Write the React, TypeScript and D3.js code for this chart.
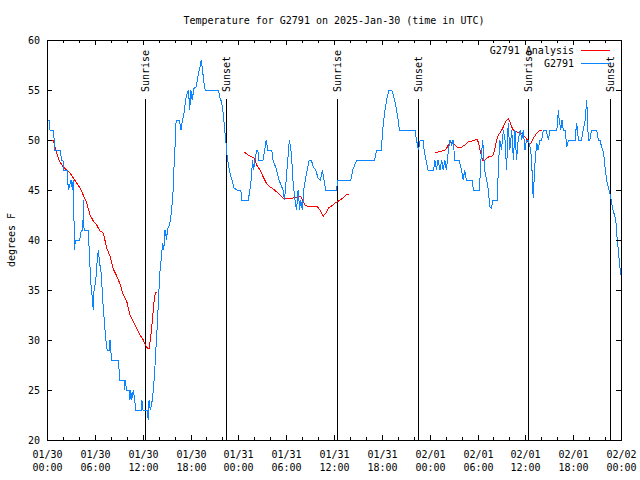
import React from 'react';
import * as d3 from 'd3';

// hours counted from 2025-01-30 00:00 UTC
const chartTitle = 'Temperature for G2791 on 2025-Jan-30 (time in UTC)';
const yAxisLabel = 'degrees F';
const xTickDates = ['01/30', '01/30', '01/30', '01/30', '01/31', '01/31', '01/31', '01/31', '02/01', '02/01', '02/01', '02/01', '02/02'];
const xTickTimes = ['00:00', '06:00', '12:00', '18:00', '00:00', '06:00', '12:00', '18:00', '00:00', '06:00', '12:00', '18:00', '00:00'];
const yTickValues = [20, 25, 30, 35, 40, 45, 50, 55, 60];

const sunLabels = ['Sunrise', 'Sunset', 'Sunrise', 'Sunset', 'Sunrise', 'Sunset'];
const sunHours = [12.33, 22.49, 36.42, 46.58, 60.38, 70.66];

const legendNames = ['G2791 Analysis', 'G2791'];

// station observations [hour, degF]
const observed: [number, number][] = [
  [0.05, 52], [0.3, 52], [0.38, 51], [0.8, 51], [0.9, 50], [1.0, 49], [1.7, 49], [1.8, 48], [2.0, 48], [2.1, 47],
  [2.6, 47], [2.65, 45], [2.85, 45.3], [2.95, 46], [3.1, 46], [3.15, 45], [3.3, 46], [3.45, 39], [3.55, 40], [4.1, 40],
  [4.3, 41], [4.5, 41], [4.55, 44], [4.65, 41], [5.2, 41], [5.3, 38.7], [5.5, 35.7], [5.7, 34], [5.8, 33], [5.9, 35],
  [6.1, 35.8], [6.3, 38], [6.45, 39], [6.6, 37.7], [6.8, 36.7], [7.05, 33.3], [7.25, 31.3], [7.45, 29.4], [7.55, 29], [7.8, 29],
  [7.9, 30], [8.0, 29], [8.1, 28], [8.9, 28], [9.05, 27], [9.15, 26], [9.7, 26], [9.75, 25], [9.8, 26], [10.0, 25],
  [10.3, 25], [10.4, 24], [10.5, 25], [10.62, 24], [10.83, 25], [11.0, 24], [11.15, 23], [11.85, 23], [11.9, 24], [12.05, 23],
  [12.55, 23], [12.7, 22], [12.8, 24], [12.95, 23], [13.15, 23.7], [13.3, 24.7], [13.5, 26.7], [13.65, 29], [13.85, 31.7], [14.0, 34.3],
  [14.15, 36.7], [14.35, 38.3], [14.5, 39.7], [14.65, 39], [14.8, 41], [15.0, 40], [15.1, 41], [15.35, 41.5], [15.5, 42], [15.7, 43.7],
  [15.85, 45.3], [15.95, 47.7], [16.1, 50], [16.2, 52], [16.6, 52], [16.8, 51], [17.0, 52], [17.2, 52.8], [17.35, 53.7], [17.5, 54.5],
  [17.75, 55], [17.9, 53], [18.05, 55], [18.2, 54], [18.45, 55.2], [18.7, 55.3], [18.85, 56], [19.0, 56.7], [19.2, 57.3], [19.35, 58],
  [19.5, 57], [19.7, 55.7], [19.85, 55], [21.5, 55], [21.7, 54.2], [21.9, 53.8], [22.1, 52.7], [22.3, 51], [22.45, 49.7], [22.6, 48.3],
  [22.8, 47.3], [22.95, 46.7], [23.2, 46], [23.45, 45.2], [23.8, 45], [24.3, 45], [24.45, 44], [25.25, 44], [25.45, 45], [25.6, 46],
  [25.8, 48], [25.9, 47], [26.1, 48], [26.3, 49], [26.45, 49], [26.55, 48], [27.1, 48], [27.3, 49], [27.5, 50], [27.7, 49],
  [28.2, 49], [28.35, 48], [28.8, 47], [29.1, 46], [29.6, 45], [29.8, 44], [30.0, 46], [30.2, 48], [30.4, 50], [30.65, 48.7],
  [30.85, 46], [31.1, 44], [31.3, 43], [31.5, 45], [31.7, 43], [31.8, 44], [32.05, 43], [32.2, 45], [32.4, 46], [32.65, 47],
  [32.9, 48], [33.15, 48], [33.4, 47.3], [33.7, 47], [34.0, 46.2], [34.3, 46], [34.55, 47], [34.75, 46], [34.95, 45], [36.3, 45],
  [36.5, 46], [38.1, 46], [38.35, 47], [38.85, 48], [41.1, 48], [41.35, 49], [41.95, 49], [42.1, 51], [42.4, 53], [42.6, 54],
  [42.9, 55], [43.25, 55], [43.6, 54], [43.85, 53], [44.05, 52], [44.2, 51], [46.15, 51], [46.35, 50], [46.6, 49], [46.8, 50],
  [47.2, 50], [47.3, 49], [47.55, 48], [47.8, 47], [48.1, 47], [48.5, 47], [48.65, 48], [48.85, 47], [49.05, 48], [49.3, 47],
  [49.5, 48], [49.7, 47], [49.9, 48], [50.1, 47], [50.35, 49], [50.55, 50], [50.75, 49.5], [50.95, 50], [51.15, 48], [51.7, 48],
  [52.0, 47], [52.2, 46], [52.4, 47], [52.6, 46], [52.95, 46], [53.3, 46], [53.5, 45], [54.25, 45], [54.4, 47.7], [54.65, 50],
  [54.9, 47], [55.15, 46], [55.35, 45], [55.55, 43.3], [55.75, 43.2], [55.95, 44], [56.5, 44], [56.6, 47], [56.8, 50], [57.0, 49],
  [57.25, 51], [57.45, 50], [57.65, 47], [57.85, 51.7], [58.05, 49], [58.3, 51], [58.5, 48], [58.7, 51], [58.9, 48], [59.1, 50],
  [59.35, 51], [59.55, 50], [59.75, 51], [59.95, 49], [60.15, 50], [60.35, 50], [60.6, 49.3], [60.8, 48], [60.9, 45.3], [61.0, 44.2],
  [61.1, 46], [61.25, 48.3], [61.45, 49.7], [61.6, 49], [61.85, 50], [62.05, 50], [62.25, 51], [62.6, 51], [62.9, 50], [63.1, 51],
  [63.95, 51], [64.15, 53], [64.25, 52], [64.45, 51], [64.6, 52], [64.75, 51], [65.0, 51], [65.2, 49.3], [65.4, 50], [66.25, 50],
  [66.35, 51], [66.45, 51.7], [66.65, 50], [67.05, 50], [67.25, 51], [67.5, 52], [67.7, 54], [67.9, 50], [68.1, 50], [68.3, 51],
  [68.95, 51], [69.15, 50], [69.35, 50], [69.6, 49.2], [69.8, 48.8], [70.0, 47.3], [70.2, 46], [70.4, 45.3], [70.6, 44.7], [71.0, 43],
  [71.35, 42], [71.5, 40.3], [71.7, 38.7], [71.8, 37.7], [71.95, 36.7], [72.0, 36.5],
];

// model analysis, null = gap
const analysis: ([number, number] | null)[] = [
  [0.55, 50], [0.8, 50], [1.0, 49.3], [1.22, 48.7], [1.42, 48.2], [1.63, 47.8], [2.05, 47.3], [2.47, 47], [2.89, 46.7], [3.3, 46.2],
  [3.72, 45.7], [4.14, 45.2], [4.55, 44.5], [4.98, 43.7], [5.4, 42.5], [5.81, 41.9], [6.23, 41.5], [6.65, 40.9], [7.06, 40.7], [7.49, 39.2],
  [7.9, 38.4], [8.32, 37.1], [8.74, 36.4], [9.16, 35.6], [9.57, 34.5], [9.99, 33.9], [10.41, 32.5], [10.83, 31.8], [11.24, 31.2], [11.66, 30.5],
  [12.08, 30], [12.33, 29.5], [12.58, 29.2], [12.83, 29.2], [13.01, 30.3], [13.26, 32.3], [13.42, 33.8], [13.59, 34.7], [13.84, 34.8],
  null,
  [24.75, 48.8], [25.25, 48.5], [25.68, 48.3], [26.0, 48.2], [26.3, 47.5], [26.72, 47], [27.13, 46.3], [27.56, 45.6], [27.97, 45.3], [28.39, 45.1],
  [28.81, 44.8], [29.23, 44.5], [29.64, 44.2], [30.9, 44.2], [31.74, 44.4], [31.95, 44.2], [32.36, 43.5], [32.58, 43.4], [33.83, 43.4], [34.24, 43],
  [34.66, 42.4], [35.0, 42.7], [35.29, 43.2], [35.71, 43.4], [36.13, 43.7], [36.42, 43.8], [36.75, 44], [37.17, 44.2], [37.59, 44.6], [37.92, 44.6],
  null,
  [48.67, 48.8], [49.08, 48.8], [49.51, 48.9], [49.92, 49], [50.14, 49.2], [50.34, 49.5], [50.55, 49.7], [50.76, 49.8], [50.97, 49.7], [51.39, 49.3],
  [51.72, 49.2], [52.02, 49.3], [52.43, 49.5], [52.85, 49.8], [53.27, 49.9], [53.69, 50], [53.9, 50.1], [54.1, 49.8], [54.23, 49.3], [54.4, 48.7],
  [54.65, 48], [54.94, 48], [55.36, 48.3], [55.78, 48.4], [55.98, 48.5], [56.19, 49.2], [56.4, 50], [56.61, 50.5], [56.82, 50.7], [57.04, 51],
  [57.24, 51.3], [57.45, 51.7], [57.66, 52], [57.86, 52.1], [58.08, 51.8], [58.29, 51.3], [58.49, 51], [58.92, 50.8], [59.33, 50.7], [59.75, 50.5],
  [60.17, 50.1], [60.37, 49.8], [60.59, 49.6], [60.8, 49.8], [61.0, 50.2], [61.22, 50.4], [61.43, 50.7], [61.63, 50.8], [61.84, 51], [62.05, 51],
];

const W = 640;
const H = 480;
const left = 47;
const right = 621;
const top = 40;
const bottom = 440;
const font = "'DejaVu Sans Mono', 'Liberation Mono', monospace";
const RED = '#ff0000';
const BLUE = '#0a84ff';

const App: React.FC = () => {
  const x = d3.scaleLinear().domain([0, 72]).range([left, right]);
  const y = d3.scaleLinear().domain([20, 60]).range([bottom, top]);

  const obsLine = d3.line<[number, number]>()
    .x(d => x(d[0]))
    .y(d => y(d[1]));

  const anaLine = d3.line<[number, number] | null>()
    .defined(d => d !== null)
    .x(d => x((d as [number, number])[0]))
    .y(d => y((d as [number, number])[1]));

  const majorX = d3.range(0, 73, 6);
  const minorX = d3.range(0, 73, 2).filter(h => h % 6 !== 0);

  return (
    <div style={{ position: 'fixed', left: 0, top: 0 }}>
      <svg width={W} height={H} style={{ display: 'block', background: '#fff' }} fontFamily={font} fontSize={10}>
        <text x={(left + right) / 2} y={24} textAnchor="middle">{chartTitle}</text>

        {/* sunrise / sunset markers */}
        {sunHours.map((h, i) => {
          const lx = Math.round(x(h)) + 0.5;
          return (
            <g key={'sun' + i}>
              <line x1={lx} x2={lx} y1={99} y2={bottom} stroke="#000" strokeWidth={1} />
              <text transform={`translate(${lx},92) rotate(-90)`} dy="0.35em" textAnchor="start">{sunLabels[i]}</text>
            </g>
          );
        })}

        {/* data */}
        <path d={anaLine(analysis) || ''} fill="none" stroke={RED} strokeWidth={1} shapeRendering="crispEdges" />
        <path d={obsLine(observed) || ''} fill="none" stroke={BLUE} strokeWidth={1} shapeRendering="crispEdges" />

        {/* frame */}
        <rect x={left + 0.5} y={top + 0.5} width={right - left} height={bottom - top} fill="none" stroke="#000" strokeWidth={1} />

        {/* x ticks */}
        {majorX.map((h, i) => {
          const tx = Math.round(x(h)) + 0.5;
          return (
            <g key={'mx' + i}>
              <line x1={tx} x2={tx} y1={bottom} y2={bottom - 5} stroke="#000" />
              <line x1={tx} x2={tx} y1={top} y2={top + 5} stroke="#000" />
              <text x={tx} y={457.5} textAnchor="middle">{xTickDates[i]}</text>
              <text x={tx} y={471} textAnchor="middle">{xTickTimes[i]}</text>
            </g>
          );
        })}
        {minorX.map((h, i) => {
          const tx = Math.round(x(h)) + 0.5;
          return (
            <g key={'nx' + i}>
              <line x1={tx} x2={tx} y1={bottom} y2={bottom - 3} stroke="#000" />
              <line x1={tx} x2={tx} y1={top} y2={top + 3} stroke="#000" />
            </g>
          );
        })}

        {/* y ticks */}
        {yTickValues.map(v => {
          const ty = Math.round(y(v)) + 0.5;
          return (
            <g key={'y' + v}>
              <line x1={left} x2={left + 5} y1={ty} y2={ty} stroke="#000" />
              <line x1={right} x2={right - 5} y1={ty} y2={ty} stroke="#000" />
              <text x={40} y={ty} dy="0.35em" textAnchor="end">{v}</text>
            </g>
          );
        })}

        <text transform={`translate(11,${(top + bottom) / 2}) rotate(-90)`} dy="0.35em" textAnchor="middle">{yAxisLabel}</text>

        {/* legend */}
        {legendNames.map((name, i) => {
          const ly = 50 + i * 13;
          return (
            <g key={'lg' + i}>
              <text x={574} y={ly} dy="0.35em" textAnchor="end">{name}</text>
              <line x1={581} x2={610} y1={ly + 0.5} y2={ly + 0.5} stroke={i === 0 ? RED : BLUE} />
            </g>
          );
        })}
      </svg>
    </div>
  );
};

export default App;
